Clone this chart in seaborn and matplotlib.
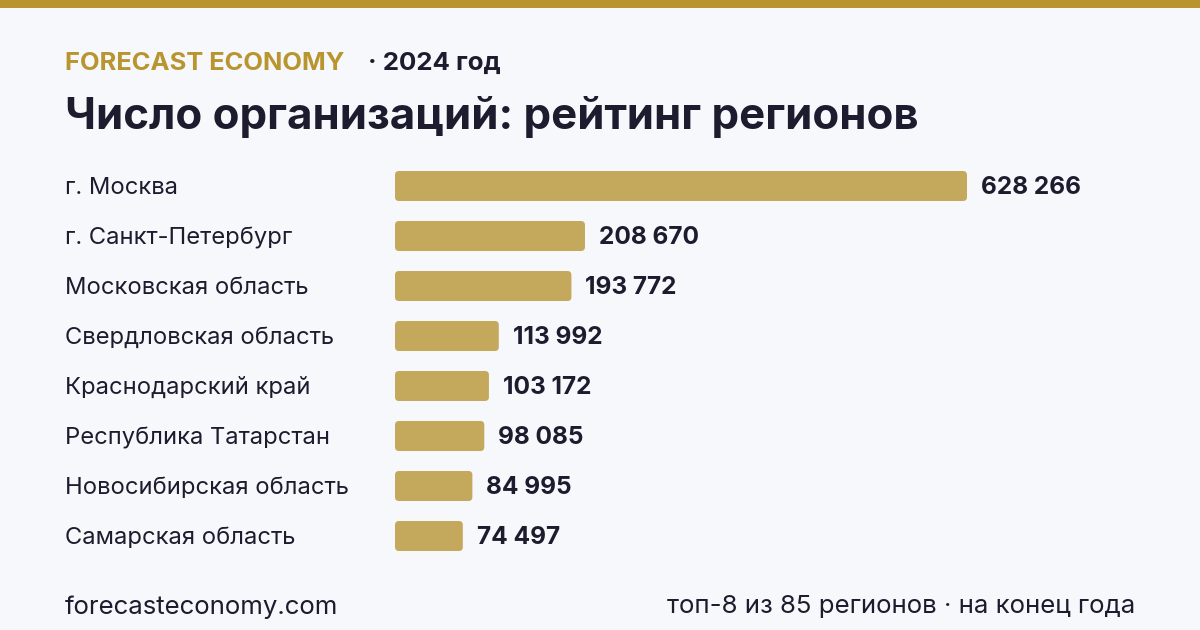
import matplotlib
matplotlib.use('Agg')
import matplotlib.pyplot as plt
import seaborn as sns
import pandas as pd
from matplotlib.patches import FancyBboxPatch, Rectangle

# data
regions = ['г. Москва', 'г. Санкт-Петербург', 'Московская область', 'Свердловская область',
           'Краснодарский край', 'Республика Татарстан', 'Новосибирская область', 'Самарская область']
counts = [628266, 208670, 193772, 113992, 103172, 98085, 84995, 74497]

brand = 'FORECAST ECONOMY'
year_note = '· 2024 год'
title = 'Число организаций: рейтинг регионов'
footer_left = 'forecasteconomy.com'
footer_right = 'топ-8 из 85 регионов · на конец года'

BG = '#F7F8FC'
GOLD = '#B8952F'
BAR = '#C4A85C'
DARK = '#1C1C2E'

sns.set_style('white')
plt.rcParams['font.family'] = ['Inter', 'DejaVu Sans']

df = pd.DataFrame({'region': regions, 'count': counts})

fig = plt.figure(figsize=(12, 6.3), dpi=100, facecolor=BG)
W, H = 1200, 630
ax = fig.add_axes([395 / W, 1 - 561 / H, 745 / W, 400 / H])
ax.set_facecolor(BG)

sns.barplot(data=df, x='count', y='region', color=BAR, width=0.6, saturation=1, ax=ax)
xmax = counts[0] * 745 / 572
ax.set_xlim(0, xmax)
ax.set_ylim(len(regions) - 0.5, -0.5)

# rounded bars
px_x = xmax / 745
px_y = 1 / 50
for p in list(ax.patches):
    x, y = p.get_x(), p.get_y()
    w, h = p.get_width(), p.get_height()
    p.remove()
    r = 4 * px_x
    ax.add_patch(FancyBboxPatch((x, y), w, h,
                                boxstyle=f'round,pad=0,rounding_size={r}',
                                mutation_aspect=px_y / px_x,
                                facecolor=BAR, edgecolor='none'))

for i, v in enumerate(counts):
    ax.text(v + 14 * px_x, i + 2 * px_y, f'{v:,}'.replace(',', ' '), va='center', ha='left',
            fontsize=17.6, fontweight='bold', color=DARK)

ax.set_xlabel('')
ax.set_ylabel('')
ax.set_xticks([])
ax.set_yticks([])
sns.despine(ax=ax, left=True, bottom=True)

for i, name in enumerate(regions):
    fig.text(65 / W, 1 - (188 + 50 * i) / H, name, ha='left', va='center',
             fontsize=17.1, color=DARK)

# header
fig.add_artist(Rectangle((0, 1 - 8 / H), 1, 8 / H, transform=fig.transFigure,
                         facecolor=GOLD, edgecolor='none'))
fig.text(65 / W, 1 - 63 / H, brand, ha='left', va='center', fontsize=18.4,
         fontweight='bold', color=GOLD)
fig.text(368 / W, 1 - 63 / H, year_note, ha='left', va='center', fontsize=18.6,
         fontweight='bold', color=DARK)
fig.text(65 / W, 1 - 117 / H, title, ha='left', va='center', fontsize=31.5,
         fontweight='bold', color=DARK)

# footer
fig.text(65 / W, 1 - 607 / H, footer_left, ha='left', va='center', fontsize=18.6, color=DARK)
fig.text(1135 / W, 1 - 607 / H, footer_right, ha='right', va='center', fontsize=18.6, color=DARK)

fig.savefig('out.png', dpi=100, facecolor=BG)
